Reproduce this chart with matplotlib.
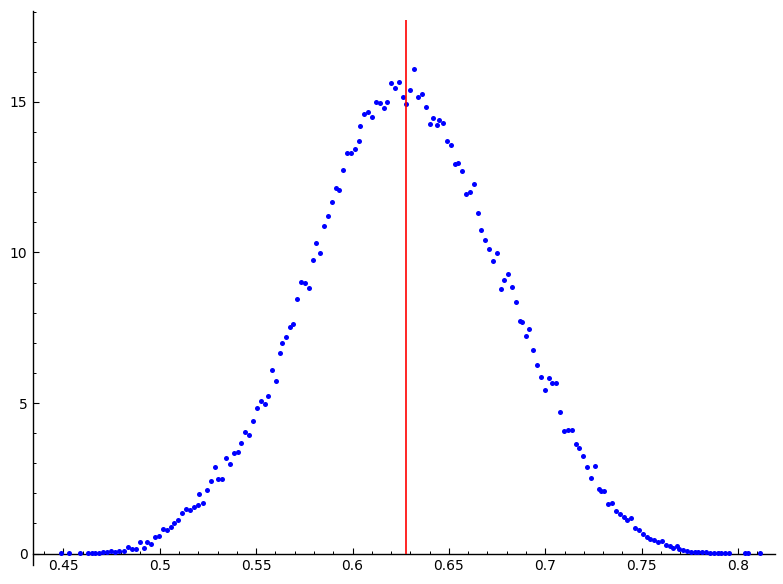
import matplotlib
matplotlib.use('Agg')
import matplotlib.pyplot as plt
from matplotlib.ticker import MultipleLocator

# points (x = value, y = density)
x_vals = [0.4488, 0.4528, 0.4588, 0.4626, 0.4647, 0.4666, 0.4687, 0.4708, 0.4727, 0.4748,
          0.4766, 0.4787, 0.4815, 0.4836, 0.4856, 0.4877, 0.4896, 0.4917, 0.4936, 0.4957,
          0.4976, 0.4996, 0.5015, 0.5036, 0.5057, 0.5076, 0.5097, 0.5116, 0.5136, 0.5155,
          0.5176, 0.5197, 0.5205, 0.5224, 0.5245, 0.5264, 0.5285, 0.5304, 0.5325, 0.5345,
          0.5364, 0.5385, 0.5404, 0.5422, 0.5444, 0.5463, 0.5484,
          0.5503, 0.5524, 0.5545, 0.5563, 0.5584, 0.5603, 0.5624, 0.5634, 0.5653, 0.5674,
          0.5693, 0.5712, 0.5733, 0.5752, 0.5772, 0.5793, 0.5812, 0.5833, 0.5852, 0.5873,
          0.5892, 0.5912, 0.5932, 0.5952, 0.5971, 0.5992, 0.6011, 0.6032, 0.6041, 0.6062,
          0.6082, 0.6101, 0.6122, 0.6141, 0.6161, 0.6180, 0.6201, 0.6221, 0.6241, 0.6260,
          0.6279,
          0.6300, 0.6321, 0.6340, 0.6360, 0.6380, 0.6400, 0.6419, 0.6440, 0.6450, 0.6469,
          0.6490, 0.6509, 0.6530, 0.6549, 0.6570, 0.6589, 0.6610, 0.6629, 0.6649, 0.6668,
          0.6689, 0.6708, 0.6729, 0.6748, 0.6769, 0.6788, 0.6808, 0.6827, 0.6848, 0.6867,
          0.6878, 0.6898, 0.6917, 0.6938, 0.6957, 0.6978, 0.6997, 0.7017, 0.7036, 0.7057,
          0.7076, 0.7096, 0.7116, 0.7136,
          0.7159, 0.7177, 0.7197, 0.7216, 0.7237, 0.7256, 0.7277, 0.7287, 0.7306, 0.7325,
          0.7346, 0.7365, 0.7386, 0.7406, 0.7426, 0.7446, 0.7465, 0.7486, 0.7505, 0.7526,
          0.7545, 0.7566, 0.7585, 0.7605, 0.7624, 0.7645, 0.7664, 0.7685, 0.7695, 0.7714,
          0.7735, 0.7754, 0.7775, 0.7794, 0.7814, 0.7834, 0.7854, 0.7873, 0.7894, 0.7913,
          0.7934, 0.7953, 0.8033, 0.8053, 0.8112]
y_vals = [0.02, 0.02, 0.02, 0.02, 0.02, 0.02, 0.03, 0.05, 0.05, 0.08,
          0.05, 0.09, 0.07, 0.21, 0.16, 0.14, 0.37, 0.20, 0.40, 0.31,
          0.55, 0.59, 0.81, 0.79, 0.88, 1.01, 1.12, 1.35, 1.49, 1.45,
          1.54, 1.62, 1.97, 1.67, 2.10, 2.41, 2.88, 2.49, 2.47, 3.16,
          2.97, 3.33, 3.38, 3.67, 4.05, 3.94, 4.40,
          4.84, 5.08, 4.97, 5.24, 6.10, 5.74, 6.65, 6.98, 7.20, 7.51,
          7.64, 8.45, 9.02, 9.00, 8.82, 9.74, 10.31, 9.99, 10.87, 11.20,
          11.68, 12.14, 12.06, 12.74, 13.31, 13.29, 13.43, 13.71, 14.19, 14.61,
          14.65, 14.49, 15.00, 14.97, 14.81, 15.00, 15.63, 15.45, 15.66, 15.17,
          14.94,
          15.40, 16.10, 15.18, 15.25, 14.83, 14.26, 14.48, 14.22, 14.41, 14.29,
          13.69, 13.58, 12.93, 12.98, 12.72, 11.94, 12.00, 12.26, 11.31, 10.74,
          10.42, 10.13, 9.71, 9.99, 8.80, 9.10, 9.27, 8.85, 8.37, 7.73,
          7.68, 7.23, 7.45, 6.76, 6.26, 5.88, 5.44, 5.83, 5.66, 5.65,
          4.70, 4.08, 4.12, 4.10,
          3.64, 3.52, 3.24, 2.87, 2.52, 2.90, 2.16, 2.07, 2.07, 1.64,
          1.69, 1.41, 1.32, 1.22, 1.10, 1.17, 0.85, 0.78, 0.66, 0.55,
          0.50, 0.45, 0.37, 0.42, 0.30, 0.24, 0.17, 0.25, 0.16, 0.11,
          0.07, 0.05, 0.04, 0.05, 0.04, 0.05, 0.03, 0.02, 0.03, 0.03,
          0.01, 0.01, 0.01, 0.01, 0.01]

mean_x = 0.6279
line_top = 17.72

x_ticks = [0.45, 0.5, 0.55, 0.6, 0.65, 0.7, 0.75, 0.8]
x_tick_labels = ['0.45', '0.5', '0.55', '0.6', '0.65', '0.7', '0.75', '0.8']
y_ticks = [0, 5, 10, 15]
y_tick_labels = ['0', '5', '10', '15']

fig = plt.figure(figsize=(7.83, 5.84), dpi=100)
ax = fig.add_axes([0.0421, 0.0325, 0.9477, 0.9492])

ax.scatter(x_vals, y_vals, s=13, color='blue', linewidths=0, zorder=3)
ax.vlines(mean_x, 0, line_top, color='red', linewidth=1.2, zorder=4)

ax.set_xlim(0.4343, 0.8191)
ax.set_ylim(-0.38, 18.03)

# sage-like axes: x axis through y=0, ticks pointing inward
ax.spines['bottom'].set_position(('data', 0))
ax.spines['top'].set_visible(False)
ax.spines['right'].set_visible(False)
for s in ['bottom', 'left']:
    ax.spines[s].set_linewidth(1.0)

ax.set_xticks(x_ticks)
ax.set_xticklabels(x_tick_labels)
ax.set_yticks(y_ticks)
ax.set_yticklabels(y_tick_labels)
ax.xaxis.set_minor_locator(MultipleLocator(0.01))
ax.yaxis.set_minor_locator(MultipleLocator(1))
ax.tick_params(which='major', direction='in', length=4.5, width=0.8, labelsize=10, pad=4)
ax.tick_params(which='minor', direction='in', length=2.3, width=0.7)

fig.savefig('out.png', dpi=100)
